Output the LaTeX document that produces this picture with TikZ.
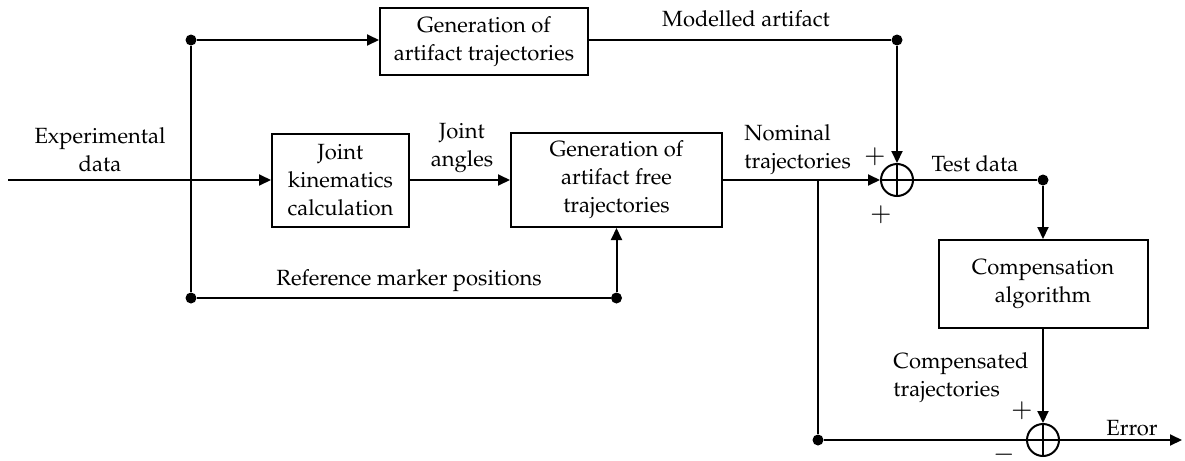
\documentclass[tikz,border=0pt]{standalone}
\usepackage[T1]{fontenc}
\usepackage{mathpazo}
\usetikzlibrary{arrows.meta,positioning,calc}
\tikzset{
  blk/.style={draw, line width=1pt, align=center, inner sep=2pt,
              font=\fontsize{11}{14}\selectfont},
  lbl/.style={align=center, inner sep=1pt, font=\fontsize{11}{14}\selectfont},
  sgn/.style={inner sep=1pt, font=\fontsize{13}{14}\selectfont},
  sumj/.style={draw, circle, line width=1pt, minimum size=16pt, inner sep=0pt,
               path picture={\draw[line width=1pt]
                 (path picture bounding box.north) -- (path picture bounding box.south)
                 (path picture bounding box.west) -- (path picture bounding box.east);}},
  jdot/.style={circle, fill, inner sep=0pt, minimum size=5.5pt},
  flow/.style={-{Triangle[length=6pt,width=5.5pt]}, line width=1pt},
  wire/.style={line width=1pt},
}
\begin{document}
\begin{tikzpicture}[x=0.5pt,y=-0.5pt]
  \useasboundingbox (0,0) rectangle (1185,461);
  % blocks
  \node[blk, minimum width=104pt, minimum height=33.5pt] (art) at (484,41.5) {Generation of\\artifact trajectories};
  \node[blk, minimum width=68.5pt, minimum height=46.5pt] (joint) at (340.5,180) {Joint\\kinematics\\calculation};
  \node[blk, minimum width=105.5pt, minimum height=47pt] (free) at (616.5,180) {Generation of\\artifact free\\trajectories};
  \node[blk, minimum width=104.5pt, minimum height=44pt] (comp) at (1043,284) {Compensation\\algorithm};
  \node[sumj] (s1) at (897,180) {};
  \node[sumj] (s2) at (1043,440) {};
  % branch points
  \coordinate (in) at (8,180);
  \coordinate (tap) at (818,180);
  \coordinate (out) at (1182,440);
  \node[jdot] (d1) at (191,40) {};
  \node[jdot] (d2) at (191,298) {};
  \node[jdot] (d3) at (616.5,298) {};
  \node[jdot] (d4) at (897,40) {};
  \node[jdot] (d5) at (1043,180) {};
  \node[jdot] (d6) at (818,440) {};
  % connectors
  \draw[flow] (in) -- (joint);
  \draw[flow] (joint) -- (free);
  \draw[flow] (free) -- (s1);
  \draw[wire] (d1) -- (d2);
  \draw[flow] (d1) -- (d1 -| art.west);
  \draw[wire] (art.east |- d4) -- (d4);
  \draw[flow] (d4) -- (s1);
  \draw[wire] (d2) -- (d3);
  \draw[flow] (d3) -- (free);
  \draw[wire] (s1) -- (d5);
  \draw[flow] (d5) -- (comp);
  \draw[flow] (comp) -- (s2);
  \draw[wire] (tap) -- (d6);
  \draw[wire] (d6) -- (s2);
  \draw[flow] (s2) -- (out);
  % labels
  \node[lbl] (lexp) at (100,150) {Experimental\\data};
  \node[lbl] (lang) at (462,148) {Joint\\angles};
  \node[lbl, anchor=west, align=left] (lnom) at (742,150) {Nominal\\trajectories};
  \node[lbl] (lmod) at (746,19) {Modelled artifact};
  \node[lbl] (ltest) at (975,164) {Test data};
  \node[lbl] (lref) at (409,281) {Reference marker positions};
  \node[lbl, anchor=west, align=left] (lcomp) at (891,378) {Compensated\\trajectories};
  \node[lbl] (lerr) at (1132,428) {Error};
  \node[sgn] (p1) at (875,157) {$+$};
  \node[sgn] (p2) at (881,215) {$+$};
  \node[sgn] (p3) at (1022,411) {$+$};
  \node[sgn] (m1) at (1004,455) {$-$};
\end{tikzpicture}
\end{document}
